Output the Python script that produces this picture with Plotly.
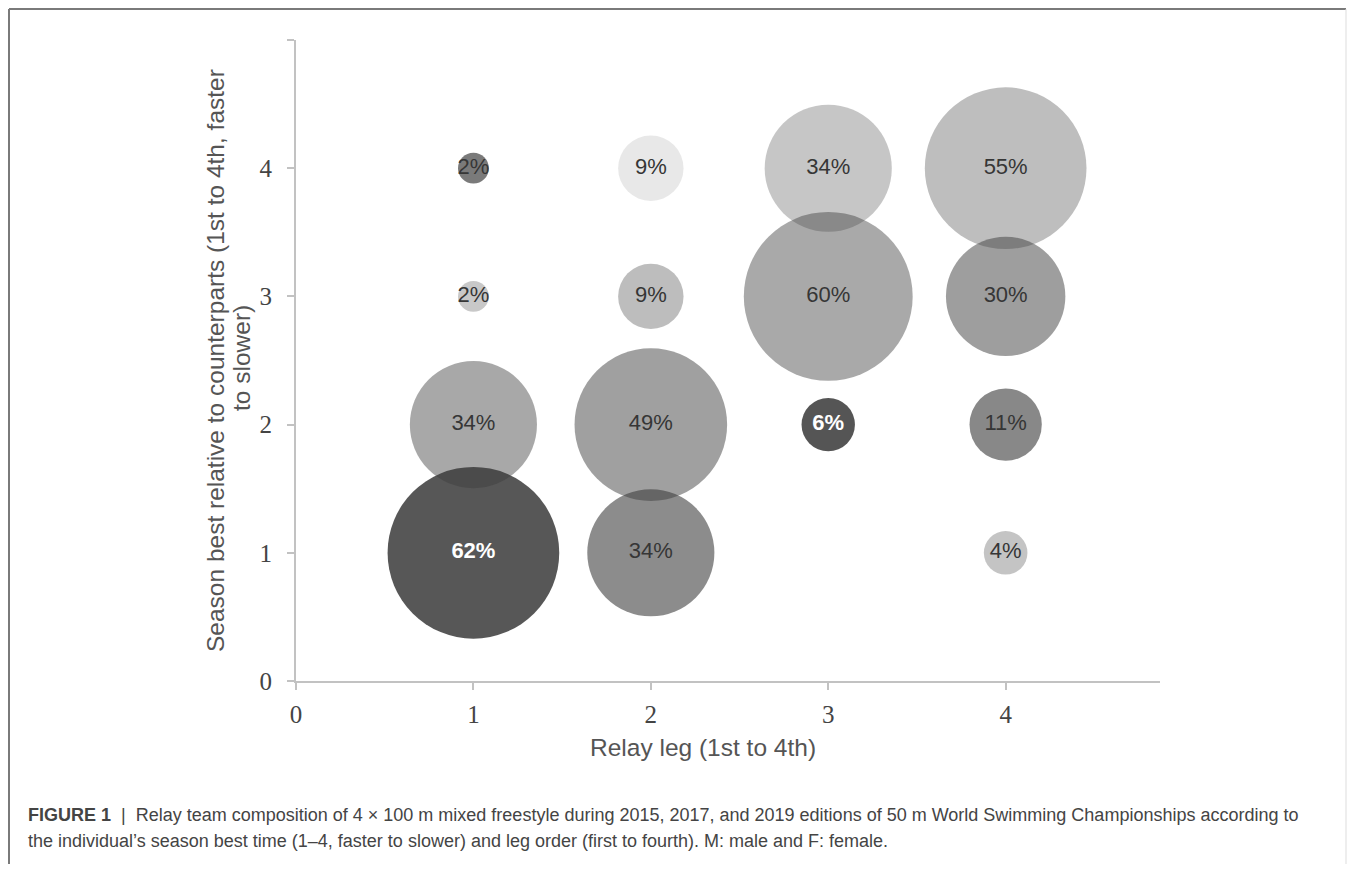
import plotly.graph_objects as go

# ---- data ----
relay_leg = [1, 1, 1, 1, 2, 2, 2, 2, 3, 3, 3, 4, 4, 4, 4]
season_rank = [1, 2, 3, 4, 1, 2, 3, 4, 2, 3, 4, 1, 2, 3, 4]
percent = [62, 34, 2, 2, 34, 49, 9, 9, 6, 60, 34, 4, 11, 30, 55]
x_ticks = [0, 1, 2, 3, 4]
y_ticks = [0, 1, 2, 3, 4, 5]
y_ticktext = ["0", "1", "2", "3", "4", ""]

# ---- style (apparent grey level of each bubble on white) ----
shade = [87, 168, 200, 122, 140, 160, 189, 232, 85, 169, 198, 196, 136, 158, 190]
base = 60
colors = []
for s in shade:
    a = (255 - s) / (255 - base)
    colors.append(f"rgba({base},{base},{base},{a:.3f})")
labels = []
label_colors = []
for p, s in zip(percent, shade):
    if s < 100:
        labels.append(f"<b>{p}%</b>")
        label_colors.append("white")
    else:
        labels.append(f"{p}%")
        label_colors.append("#363636")

fig = go.Figure()
fig.add_trace(go.Scatter(
    x=relay_leg, y=season_rank, mode="markers+text",
    text=labels, textposition="middle center",
    textfont=dict(family="Liberation Sans, Arial", size=22, color=label_colors),
    marker=dict(size=percent, sizemode="area", sizeref=2 / 21.8 ** 2, opacity=1,
                color=colors, line=dict(width=0)),
    hoverinfo="skip", showlegend=False, cliponaxis=False,
))

# page-pixel geometry (the page body adds an 8 px offset)
OFF = 8
L, R, T, B = 296, 1160, 40, 681
W, H = 1355 - 2 * OFF, 872 - 2 * OFF
pw, ph = R - L, B - T

def px(x):
    return (x - L) / pw

def py(y):
    return (B - y) / ph

axis_col = "#c2c2c2"
tick_font = dict(family="Liberation Serif, Times New Roman", size=25, color="#444")
fig.update_xaxes(range=[0, 4.87], tickvals=x_ticks, showline=True, linecolor=axis_col,
                 linewidth=2, ticks="outside", ticklen=7, tickwidth=2, tickcolor=axis_col,
                 showgrid=False, zeroline=False, tickfont=tick_font, ticklabelstandoff=3)
fig.update_yaxes(range=[0, 5], tickvals=y_ticks, ticktext=y_ticktext, showline=True,
                 linecolor=axis_col, linewidth=2, ticks="outside", ticklen=7, tickwidth=2,
                 tickcolor=axis_col, showgrid=False, zeroline=False, tickfont=tick_font,
                 ticklabelstandoff=10)

title_font = dict(family="Liberation Sans, Arial", size=24.5, color="#555")
cap_font = dict(family="Liberation Sans, Arial", size=18, color="#444")
ann = [
    dict(text="Relay leg (1st to 4th)", x=px(703), y=py(747), xanchor="center", yanchor="middle",
         font=title_font),
    dict(text="Season best relative to counterparts (1st to 4th, faster", x=px(215), y=py(361),
         textangle=-90, xanchor="center", yanchor="middle", font=title_font),
    dict(text="to slower)", x=px(241), y=py(358), textangle=-90, xanchor="center",
         yanchor="middle", font=title_font),
    dict(text="<b>FIGURE 1</b>  |  Relay team composition of 4 × 100 m mixed freestyle during 2015, 2017, "
              "and 2019 editions of 50 m World Swimming Championships according to",
         x=px(26), y=py(815), xanchor="left", yanchor="middle", font=cap_font),
    dict(text="the individual’s season best time (1–4, faster to slower) and leg order (first to fourth). "
              "M: male and F: female.",
         x=px(26), y=py(841), xanchor="left", yanchor="middle", font=cap_font),
]
for a in ann:
    a.update(xref="paper", yref="paper", showarrow=False)

shapes = [
    dict(type="line", xref="paper", yref="paper", x0=px(9), x1=px(1346), y0=py(9), y1=py(9),
         line=dict(color="#7a7a7a", width=2)),
    dict(type="line", xref="paper", yref="paper", x0=px(9), x1=px(9), y0=py(9), y1=py(872),
         line=dict(color="#7a7a7a", width=2)),
    dict(type="line", xref="paper", yref="paper", x0=px(1346), x1=px(1346), y0=py(9), y1=py(872),
         line=dict(color="#dddddd", width=1)),
]

fig.update_layout(
    width=W, height=H, autosize=False,
    margin=dict(l=L - OFF, r=W - (R - OFF), t=T - OFF, b=H - (B - OFF), pad=0),
    paper_bgcolor="white", plot_bgcolor="white",
    annotations=ann, shapes=shapes,
)

fig.write_html("out.html")
